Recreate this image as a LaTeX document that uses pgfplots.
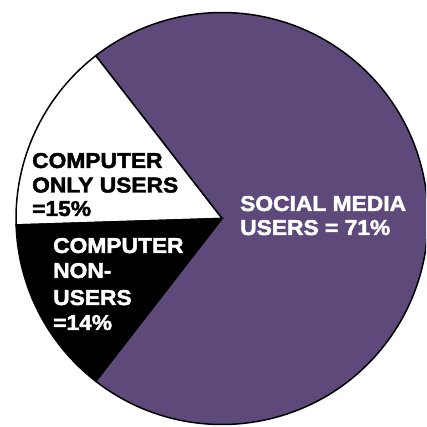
\documentclass[border=0pt]{standalone}
\usepackage{pgfplots}
\pgfplotsset{compat=1.18}
\usepackage{pgfplotstable}
\usepackage{fontspec}
\newfontfamily\lbl{Liberation Sans}[FakeStretch=1.06, BoldFeatures={FakeBold=2}]
\definecolor{piepurple}{RGB}{94,74,122}

\pgfplotstableread{
label value
social 71
only 15
non 14
}\pietable

\begin{document}
\begin{tikzpicture}
\pgfplotstablegetelem{0}{value}\of\pietable \let\vA\pgfplotsretval
\pgfplotstablegetelem{1}{value}\of\pietable \let\vB\pgfplotsretval
\pgfplotstablegetelem{2}{value}\of\pietable \let\vC\pgfplotsretval
\pgfmathsetmacro\aA{-\vA*1.8}
\pgfmathsetmacro\aB{\aA+\vA*3.6}
\pgfmathsetmacro\aC{\aB+\vB*3.6}
\pgfmathsetmacro\aD{\aC+\vC*3.6}
\begin{axis}[x=1pt, y=1pt, xmin=0, xmax=426, ymin=0, ymax=427,
  hide axis, scale only axis, clip=true, disabledatascaling]
\filldraw[fill=piepurple, draw=black, line width=1.5pt, line join=miter]
  (axis cs:222,208.5) -- ++(\aA:206pt) arc[start angle=\aA, end angle=\aB, radius=206pt] -- cycle;
\filldraw[fill=white, draw=black, line width=1.5pt, line join=miter]
  (axis cs:222,208.5) -- ++(\aB:206pt) arc[start angle=\aB, end angle=\aC, radius=206pt] -- cycle;
\filldraw[fill=black, draw=black, line width=1.5pt, line join=miter]
  (axis cs:222,208.5) -- ++(\aC:206pt) arc[start angle=\aC, end angle=\aD, radius=206pt] -- cycle;
\begin{scope}[every node/.style={inner sep=0pt, anchor=base west, font=\lbl\bfseries\fontsize{21.5}{24}\selectfont}]
\node[text=white] at (axis cs:240,216) {SOCIAL MEDIA};
\node[text=white] at (axis cs:240,192) {USERS = 71\%};
\node[text=black] at (axis cs:32,259) {COMPUTER};
\node[text=black] at (axis cs:32,234.5) {ONLY USERS};
\node[text=black] at (axis cs:32,211) {=15\%};
\node[text=white] at (axis cs:53,174) {COMPUTER};
\node[text=white] at (axis cs:53,149) {NON-};
\node[text=white] at (axis cs:53,122) {USERS};
\node[text=white] at (axis cs:53,97) {=14\%};
\end{scope}
\end{axis}
\pgfresetboundingbox
\useasboundingbox (current axis.south west) rectangle (current axis.north east);
\end{tikzpicture}
\end{document}
